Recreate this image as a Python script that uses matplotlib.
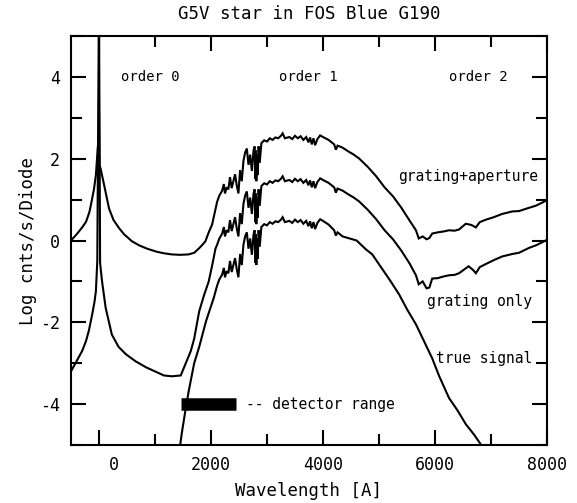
import matplotlib
matplotlib.use('Agg')
import matplotlib.pyplot as plt
import matplotlib.transforms as mtransforms
from matplotlib.ticker import MultipleLocator

plt.rcParams['font.family'] = 'DejaVu Sans Mono'
plt.rcParams['axes.unicode_minus'] = False

# grating + aperture (orders 0, 1, 2)
ga_x = [-500, -400, -300, -230, -170, -125, -90, -55, -20, -5, 0, 8, 30, 90, 180, 260, 360, 450,
        590, 720, 860, 1020, 1150, 1300, 1450, 1600, 1700, 1780, 1850, 1900, 1960, 2020, 2070,
        2110, 2150, 2200, 2230, 2250, 2280, 2310, 2340, 2370, 2400, 2430, 2460, 2490, 2520, 2550,
        2580, 2610, 2640, 2670, 2700, 2730, 2760, 2780, 2790, 2800, 2810, 2820, 2835, 2850, 2870,
        2900, 2950, 3000, 3050, 3100, 3150, 3200, 3250, 3280, 3320, 3400, 3450, 3500, 3550, 3600,
        3650, 3700, 3740, 3770, 3800, 3830, 3860, 3900, 3950, 4000, 4100, 4200, 4230, 4260, 4350,
        4450, 4550, 4650, 4800, 4950, 5100, 5250, 5400, 5550, 5660, 5710, 5780, 5850, 5900, 5950,
        6050, 6150, 6250, 6350, 6430, 6550, 6650, 6730, 6800, 6910, 7050, 7200, 7380, 7500, 7680,
        7800, 7950, 8000]
ga_y = [0.0, 0.15, 0.32, 0.46, 0.7, 1.0, 1.25, 1.6, 2.3, 2.4, 3.4, 1.85, 1.75, 1.37, 0.78, 0.5, 0.3, 0.15,
        -0.02, -0.12, -0.2, -0.27, -0.31, -0.34, -0.35, -0.34, -0.3, -0.2, -0.1, -0.02, 0.2, 0.39, 0.7,
        0.95, 1.10, 1.22, 1.38, 1.15, 1.30, 1.25, 1.55, 1.28, 1.45, 1.62, 1.35, 1.15, 1.72, 1.45,
        1.95, 2.15, 2.25, 1.85, 2.10, 1.70, 2.20, 2.30, 1.50, 2.20, 1.45, 2.10, 1.60, 2.30, 1.90,
        2.38, 2.45, 2.42, 2.50, 2.46, 2.52, 2.50, 2.56, 2.62, 2.50, 2.53, 2.48, 2.56, 2.50, 2.55,
        2.46, 2.53, 2.40, 2.52, 2.35, 2.50, 2.33, 2.48, 2.57, 2.53, 2.46, 2.35, 2.22, 2.32, 2.27,
        2.18, 2.10, 2.00, 1.80, 1.57, 1.30, 1.08, 0.80, 0.48, 0.25, 0.05, 0.10, 0.03, 0.06, 0.17,
        0.20, 0.22, 0.25, 0.24, 0.27, 0.41, 0.38, 0.32, 0.45, 0.51, 0.57, 0.65, 0.71, 0.72, 0.80,
        0.85, 0.95, 1.0]

# grating only
go_x = [-500, -400, -300, -230, -180, -120, -80, -55, -30, 0, 20, 55, 120, 230, 350, 480, 650, 840,
        1000, 1160, 1300, 1460, 1550, 1640, 1700, 1790, 1880, 1960, 2030, 2080,
        2110, 2150, 2200, 2230, 2250, 2280, 2310, 2340, 2370, 2400, 2430, 2460, 2490, 2520, 2550,
        2580, 2610, 2640, 2670, 2700, 2730, 2760, 2780, 2790, 2800, 2810, 2820, 2835, 2850, 2870,
        2900, 2950, 3000, 3050, 3100, 3150, 3200, 3250, 3280, 3320, 3400, 3450, 3500, 3550, 3600,
        3650, 3700, 3740, 3770, 3800, 3830, 3860, 3900, 3950, 4000, 4100, 4200, 4230, 4260, 4350,
        4450, 4550, 4650, 4800, 4950, 5100, 5250, 5400, 5550, 5660, 5710, 5780, 5850, 5900, 5950,
        6050, 6150, 6250, 6350, 6430, 6550, 6600, 6680, 6730, 6800, 6900, 7050, 7200, 7380, 7500,
        7680, 7800, 7950, 8000]
go_y = [-3.2, -2.95, -2.7, -2.45, -2.2, -1.8, -1.5, -1.24, -0.5, 6.0, -0.55, -1.0, -1.65, -2.3, -2.6, -2.78, -2.95, -3.1,
        -3.2, -3.3, -3.32, -3.3, -3.0, -2.7, -2.4, -1.73, -1.32, -1.0, -0.55, -0.2,
        -0.10, 0.05, 0.17, 0.33, 0.10, 0.25, 0.20, 0.50, 0.23, 0.40, 0.57, 0.30, 0.10, 0.67, 0.40,
        0.90, 1.10, 1.20, 0.80, 1.05, 0.65, 1.15, 1.25, 0.45, 1.15, 0.40, 1.05, 0.55, 1.25, 0.85,
        1.33, 1.40, 1.37, 1.45, 1.41, 1.47, 1.45, 1.51, 1.57, 1.45, 1.48, 1.43, 1.51, 1.45, 1.50,
        1.41, 1.48, 1.35, 1.47, 1.30, 1.45, 1.28, 1.43, 1.52, 1.48, 1.41, 1.30, 1.17, 1.27, 1.22,
        1.13, 1.05, 0.95, 0.75, 0.52, 0.25, 0.03, -0.25, -0.57, -0.85, -1.07, -1.00, -1.17, -1.15, -0.93,
        -0.92, -0.88, -0.85, -0.84, -0.80, -0.68, -0.63, -0.72, -0.80, -0.65, -0.58, -0.48, -0.39, -0.33, -0.30,
        -0.18, -0.12, -0.02, 0.02]

# true signal
ts_x = [1440, 1480, 1550, 1600, 1700, 1790, 1910, 2050,
        2110, 2150, 2200, 2230, 2250, 2280, 2310, 2340, 2370, 2400, 2430, 2460, 2490, 2520, 2550,
        2580, 2610, 2640, 2670, 2700, 2730, 2760, 2780, 2790, 2800, 2810, 2820, 2835, 2850, 2870,
        2900, 2950, 3000, 3050, 3100, 3150, 3200, 3250, 3280, 3320, 3400, 3450, 3500, 3550, 3600,
        3650, 3700, 3740, 3770, 3800, 3830, 3860, 3900, 3950, 4000, 4100, 4200, 4230, 4260, 4350,
        4450, 4600, 4770, 4880, 5050, 5200, 5360, 5500, 5660, 5800, 5950, 6070, 6250, 6400, 6550,
        6700, 6850]
ts_y = [-5.1, -4.7, -4.1, -3.7, -3.0, -2.6, -1.98, -1.4,
        -1.10, -0.95, -0.83, -0.67, -0.90, -0.75, -0.80, -0.50, -0.77, -0.60, -0.43, -0.70, -0.90, -0.33, -0.60,
        -0.10, 0.10, 0.20, -0.20, 0.05, -0.35, 0.15, 0.25, -0.55, 0.15, -0.60, 0.05, -0.45, 0.25, -0.15,
        0.33, 0.40, 0.37, 0.45, 0.41, 0.47, 0.45, 0.51, 0.57, 0.45, 0.48, 0.43, 0.51, 0.45, 0.50,
        0.41, 0.48, 0.35, 0.47, 0.30, 0.45, 0.28, 0.43, 0.52, 0.48, 0.39, 0.25, 0.12, 0.20, 0.10,
        0.06, 0.0, -0.22, -0.34, -0.68, -0.98, -1.32, -1.68, -2.05, -2.45, -2.88, -3.3, -3.85, -4.15, -4.49,
        -4.75, -5.05]

detector = (1460, 2450)
detector_level = -4.0

fig = plt.figure(figsize=(5.77, 5.03), dpi=100)
ax = fig.add_axes([0.123, 0.1153, 0.825, 0.8131])

for xs, ys in [(ga_x, ga_y), (go_x, go_y), (ts_x, ts_y)]:
    ax.plot(xs, ys, color='black', lw=1.5, solid_joinstyle='miter')

ax.plot(detector, [detector_level, detector_level], color='black', lw=9, solid_capstyle='butt')
ax.text(2620, detector_level, '-- detector range', fontsize=10.5, va='center', ha='left')

ax.text(910, 4.0, 'order 0', fontsize=10, ha='center', va='center')
ax.text(3730, 4.0, 'order 1', fontsize=10, ha='center', va='center')
ax.text(6770, 4.0, 'order 2', fontsize=10, ha='center', va='center')
ax.text(6590, 1.56, 'grating+aperture', fontsize=10.5, ha='center', va='center')
ax.text(6800, -1.49, 'grating only', fontsize=10.5, ha='center', va='center')
ax.text(6880, -2.88, 'true signal', fontsize=10.5, ha='center', va='center')

ax.set_xlim(-500, 8000)
ax.set_ylim(-5, 5)
ax.xaxis.set_major_locator(MultipleLocator(2000))
ax.xaxis.set_minor_locator(MultipleLocator(1000))
ax.yaxis.set_major_locator(MultipleLocator(2))
ax.yaxis.set_minor_locator(MultipleLocator(1))
ax.tick_params(which='both', direction='in', top=True, right=True, width=1.5, labelsize=12, pad=8)
ax.tick_params(which='major', length=11)
ax.tick_params(which='minor', length=8)
for sp in ax.spines.values():
    sp.set_linewidth(1.5)

ax.set_title('G5V star in FOS Blue G190', fontsize=12.5, pad=12)
ax.set_xlabel('Wavelength [A]', fontsize=12.5, labelpad=6)
ax.set_ylabel('Log cnts/s/Diode', fontsize=12.5, labelpad=2)

fig.canvas.draw()
shift = mtransforms.ScaledTranslation(15 / 100, 0, fig.dpi_scale_trans)
for lab in ax.get_xticklabels():
    if lab.get_text() == '0':
        lab.set_transform(lab.get_transform() + shift)

fig.savefig('out.png', dpi=100)
